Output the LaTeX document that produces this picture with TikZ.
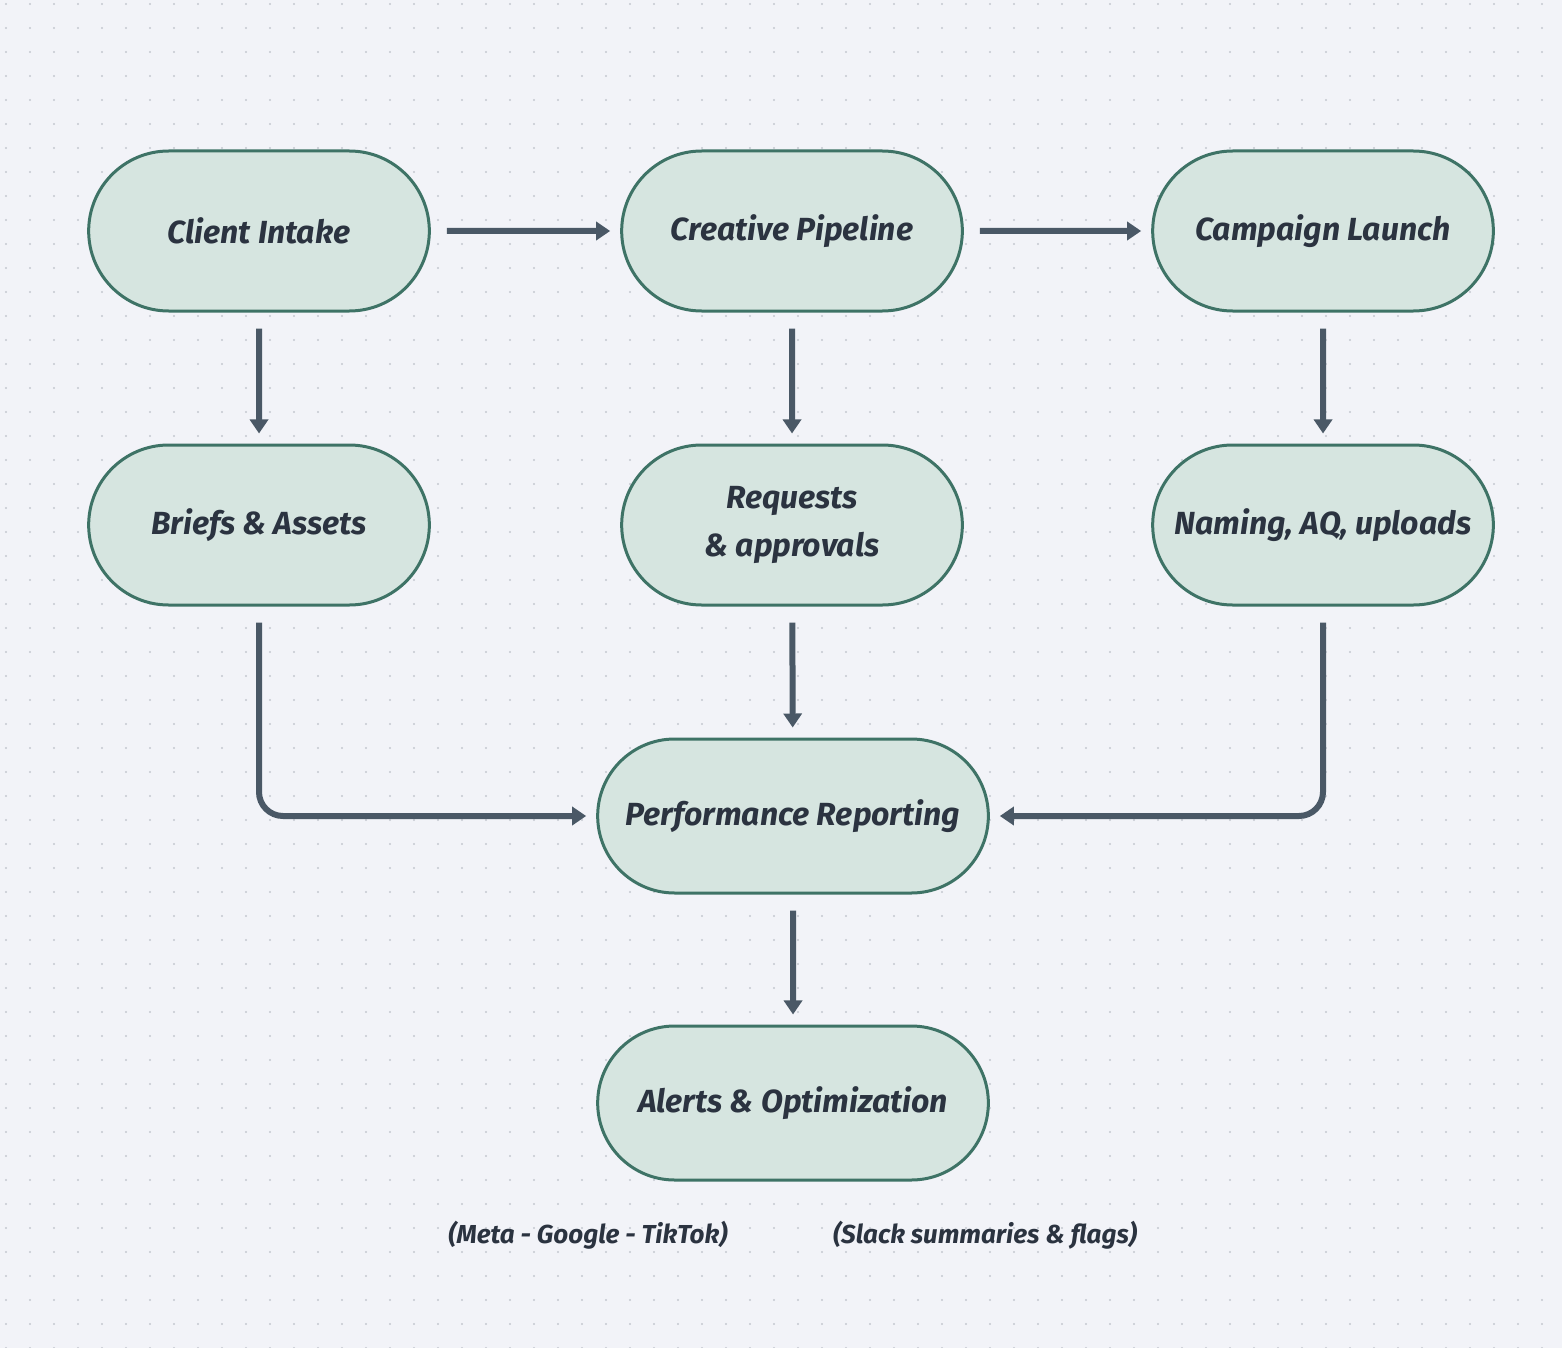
\documentclass[tikz,border=0pt]{standalone}
\usepackage{fontspec}
\setmainfont{Fira Sans}
\usetikzlibrary{arrows.meta,positioning,shapes.misc}
\definecolor{bgcol}{HTML}{F2F3F8}
\definecolor{dotcol}{HTML}{C4C8D0}
\definecolor{boxfill}{HTML}{D6E5E0}
\definecolor{boxline}{HTML}{3E7366}
\definecolor{arrcol}{HTML}{4A5866}
\definecolor{txtcol}{HTML}{2B3340}
\tikzset{
  stage/.style={rounded rectangle, draw=boxline, fill=boxfill, line width=1.5pt,
    minimum width=177pt, minimum height=80pt, align=center, text=txtcol,
    font=\fontsize{16}{24}\selectfont\bfseries\itshape},
  wide/.style={stage, minimum width=202pt, minimum height=77pt},
  flow/.style={-{Triangle[length=7pt,width=9pt]}, draw=arrcol, line width=3pt,
    shorten <=8pt, shorten >=5pt, rounded corners=12pt},
  note/.style={text=txtcol, font=\fontsize{13}{16}\selectfont\bfseries\itshape}
}
\begin{document}
\begin{tikzpicture}[x=0.5pt,y=-0.5pt]
	\fill [bgcol] (0,0) rectangle (1562,1348);
	\useasboundingbox (0,0) rectangle (1562,1348);

	\foreach \i in {0,...,65}
		\foreach \j in {0,...,56}
			\fill [dotcol] (6+\i*24,4+\j*24) circle[radius=1.2];

	\node [stage] (intake) at (259,231) {Client Intake};
	\node [stage] (creative) at (792,231) {Creative Pipeline};
	\node [stage] (launch) at (1323,231) {Campaign Launch};

	\node [stage] (briefs) at (259,525) {Briefs \& Assets};
	\node [stage] (requests) at (792,525) {Requests\\\& approvals};
	\node [stage] (naming) at (1323,525) {Naming, AQ, uploads};

	\node [wide] (perf) at (793,816) {Performance Reporting};
	\node [wide] (alerts) at (793,1103) {Alerts \& Optimization};

	\node [note] (platforms) at (588,1235) {(Meta - Google - TikTok)};
	\node [note] (slack) at (985,1235) {(Slack summaries \& flags)};

	\coordinate (bturn) at (briefs |- perf.west);
	\coordinate (nturn) at (naming |- perf.east);

	\draw [flow] (intake) -- (creative);
	\draw [flow] (creative) -- (launch);
	\draw [flow] (intake) -- (briefs);
	\draw [flow] (creative) -- (requests);
	\draw [flow] (launch) -- (naming);
	\draw [flow] (requests) -- (perf);
	\draw [flow] (briefs.south) -- (bturn) -- (perf.west);
	\draw [flow] (naming.south) -- (nturn) -- (perf.east);
	\draw [flow] (perf) -- (alerts);
\end{tikzpicture}
\end{document}
